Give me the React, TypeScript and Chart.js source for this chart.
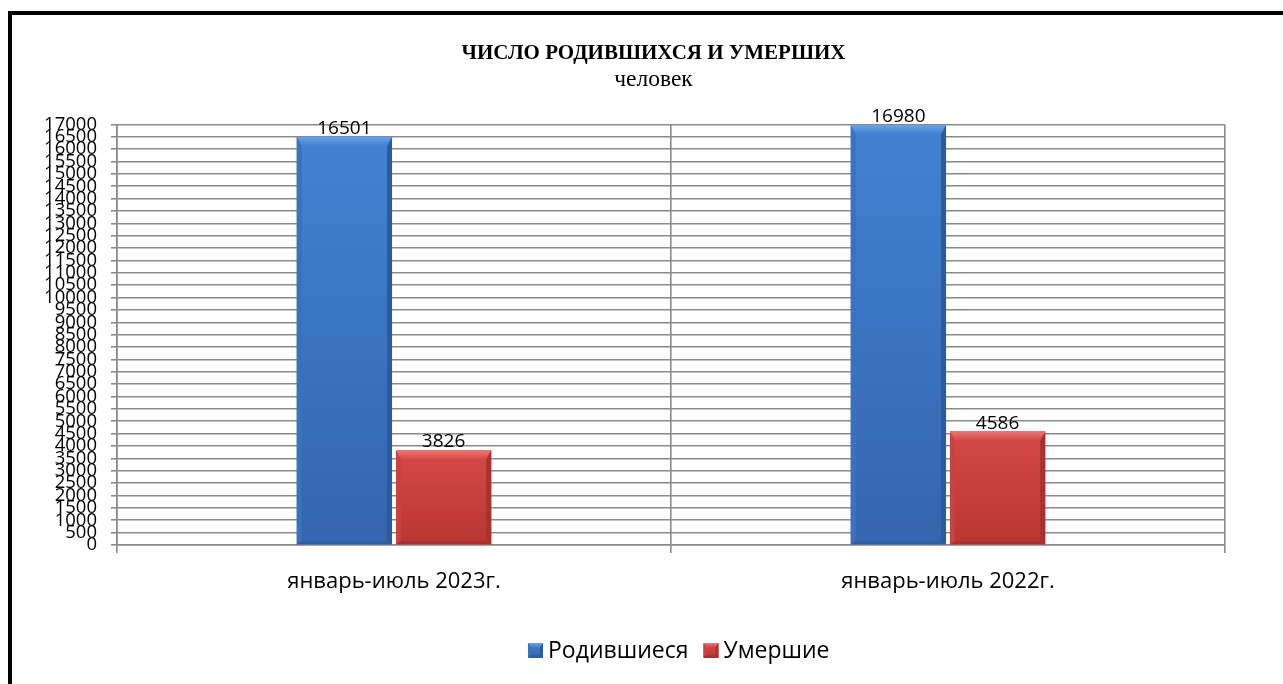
import React, { useEffect, useRef } from "react";
import { Chart, registerables } from "chart.js";

Chart.register(...registerables);

const categories = ["январь-июль 2023г.", "январь-июль 2022г."];
const seriesNames = ["Родившиеся", "Умершие"];
const bornValues = [16501, 16980];
const diedValues = [3826, 4586];
const titleText = "ЧИСЛО РОДИВШИХСЯ И УМЕРШИХ";
const subtitleText = "человек";
const yMin = 0;
const yMax = 17000;
const yStep = 500;

const SANS = "'Open Sans', 'Noto Sans', sans-serif";
const SERIF = "'Liberation Serif', 'DejaVu Serif', serif";

const palettes = [
  { base: "#3b76c5", bodyTop: "#4282d2", bodyBottom: "#3465ad", top: "#6aa3e8", left: "#3a72bd", right: "#2d5a9c", bottom: "#2f5e9f" },
  { base: "#cc3e3b", bodyTop: "#d54946", bodyBottom: "#b83633", top: "#ea7775", left: "#c84240", right: "#a83230", bottom: "#a63130" },
];

function poly(ctx: CanvasRenderingContext2D, pts: number[][], color: any) {
  ctx.beginPath();
  ctx.moveTo(pts[0][0], pts[0][1]);
  for (let i = 1; i < pts.length; i++) ctx.lineTo(pts[i][0], pts[i][1]);
  ctx.closePath();
  ctx.fillStyle = color;
  ctx.fill();
}

function bevelBox(ctx: CanvasRenderingContext2D, l: number, t: number, r: number, b: number, pal: any, bv: number, sv: number) {
  const g = ctx.createLinearGradient(0, t, 0, b);
  g.addColorStop(0, pal.bodyTop);
  g.addColorStop(1, pal.bodyBottom);
  ctx.fillStyle = g;
  ctx.fillRect(l, t, r - l, b - t);
  const bb = Math.min(3, sv);
  poly(ctx, [[l, t], [l + sv, t + bv], [l + sv, b - bb], [l, b]], pal.left);
  poly(ctx, [[r, t], [r, b], [r - sv, b - bb], [r - sv, t + bv]], pal.right);
  poly(ctx, [[l, b], [l + sv, b - bb], [r - sv, b - bb], [r, b]], pal.bottom);
  const tg = ctx.createLinearGradient(0, t, 0, t + bv);
  tg.addColorStop(0, pal.top);
  tg.addColorStop(1, pal.bodyTop);
  poly(ctx, [[l, t], [r, t], [r - sv, t + bv], [l + sv, t + bv]], tg);
}

const bevelPlugin = {
  id: "bevel",
  afterDatasetsDraw(chart: any) {
    const ctx = chart.ctx as CanvasRenderingContext2D;
    chart.data.datasets.forEach((_ds: any, di: number) => {
      const meta = chart.getDatasetMeta(di);
      const pal = palettes[di];
      meta.data.forEach((el: any, i: number) => {
        const { x, y, base, width } = el.getProps(["x", "y", "base", "width"], true);
        const l = x - width / 2;
        const r = x + width / 2;
        const t = Math.min(y, base);
        const b = Math.max(y, base);
        ctx.save();
        bevelBox(ctx, l, t, r, b, pal, Math.min(9, (b - t) / 2), Math.min(5, (b - t) / 2));
        const v = chart.data.datasets[di].data[i];
        ctx.fillStyle = "#000";
        ctx.font = `19px ${SANS}`;
        ctx.textAlign = "center";
        ctx.textBaseline = "alphabetic";
        ctx.fillText(String(v), x, t - 3);
        ctx.restore();
      });
    });
  },
};

const legendPlugin = {
  id: "customLegend",
  afterDraw(chart: any) {
    const ctx = chart.ctx as CanvasRenderingContext2D;
    ctx.save();
    ctx.font = `23px ${SANS}`;
    ctx.textBaseline = "alphabetic";
    ctx.textAlign = "left";
    let x = 528;
    const boxTop = 643;
    const boxSize = 15;
    const baseline = 658;
    chart.data.datasets.forEach((ds: any, di: number) => {
      bevelBox(ctx, x, boxTop, x + boxSize, boxTop + boxSize, palettes[di], 4, 3);
      x += boxSize + 5;
      ctx.fillStyle = "#000";
      ctx.fillText(ds.label, x, baseline);
      x += ctx.measureText(ds.label).width + 15;
    });
    ctx.restore();
  },
};

// shift the title and subtitle boxes so their centre sits where the reference has it
const titleShiftPlugin = {
  id: "titleShift",
  afterLayout(chart: any) {
    chart.boxes.forEach((box: any) => {
      if (box.position === "top" && box.options && box.options.text !== undefined) {
        box.left += 41;
        box.right += 41;
      }
    });
  },
};

export default function App() {
  const ref = useRef<HTMLCanvasElement | null>(null);
  useEffect(() => {
    if (!ref.current) return;
    const chart = new Chart(ref.current, {
      type: "bar",
      data: {
        labels: categories,
        datasets: [
          { label: seriesNames[0], data: bornValues, backgroundColor: palettes[0].base, categoryPercentage: 0.358, barPercentage: 0.96 },
          { label: seriesNames[1], data: diedValues, backgroundColor: palettes[1].base, categoryPercentage: 0.358, barPercentage: 0.96 },
        ],
      },
      plugins: [bevelPlugin, legendPlugin, titleShiftPlugin],
      options: {
        responsive: false,
        animation: false,
        devicePixelRatio: 1,
        layout: { padding: { top: 41, left: 0, right: 58, bottom: 60 } },
        plugins: {
          title: {
            display: true,
            text: titleText,
            color: "#000",
            font: { family: SERIF, size: 21, weight: "bold", lineHeight: 1.2 },
            padding: { top: 0, bottom: 0 },
          },
          subtitle: {
            display: true,
            text: subtitleText,
            color: "#000",
            font: { family: SERIF, size: 23.5, lineHeight: 1.2 },
            padding: { top: 0, bottom: 30 },
          },
          legend: { display: false },
          tooltip: { enabled: false },
        },
        scales: {
          x: {
            afterFit: (s: any) => {
              s.height = 79;
            },
            grid: { color: "#8a8a8a", lineWidth: 1.6, tickLength: 8, offset: true },
            border: { color: "#8a8a8a", width: 1.6 },
            ticks: { color: "#000", font: { family: SANS, size: 22 }, padding: 16 },
          },
          y: {
            min: yMin,
            max: yMax,
            afterFit: (s: any) => {
              s.width = 117;
            },
            grid: { color: "#8a8a8a", lineWidth: 1.6, tickLength: 6 },
            border: { color: "#8a8a8a", width: 1.6 },
            ticks: {
              stepSize: yStep,
              autoSkip: false,
              maxTicksLimit: 100,
              color: "#000",
              font: { family: SANS, size: 18.5, lineHeight: 1 },
              padding: 14,
              callback: (v: any) => String(v),
            },
          },
        },
      },
    });
    return () => chart.destroy();
  }, []);

  return (
    <div style={{ position: "fixed", left: 0, top: 0, width: 1283, height: 684, overflow: "hidden", background: "#fff" }}>
      <div
        style={{
          position: "absolute",
          left: 8,
          top: 11,
          width: 1400,
          height: 800,
          borderLeft: "4px solid #000",
          borderTop: "4px solid #000",
        }}
      />
      <canvas ref={ref} width={1283} height={684} style={{ position: "absolute", left: 0, top: 0, width: 1283, height: 684 }} />
    </div>
  );
}
